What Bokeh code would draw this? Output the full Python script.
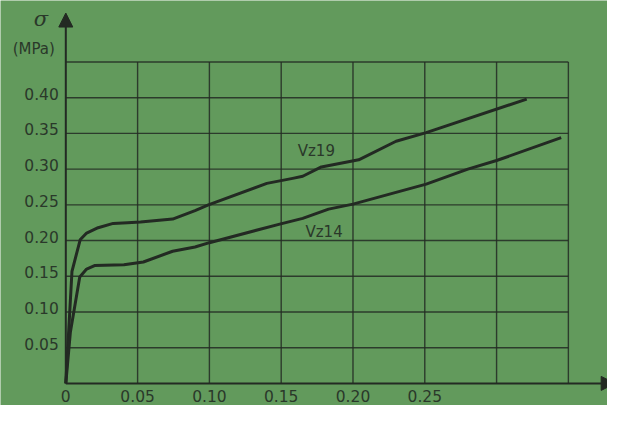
from bokeh.plotting import figure
from bokeh.models import Arrow, NormalHead, Range1d
from bokeh.core.properties import value
from bokeh.embed import file_html
from bokeh.resources import INLINE

# ---- data ----
strain_vz19 = [0, 0.0043, 0.010, 0.0145, 0.0225, 0.033, 0.043, 0.052, 0.0744, 0.090, 0.0993,
               0.140, 0.158, 0.165, 0.178, 0.204, 0.230, 0.251, 0.321]
stress_vz19 = [0, 0.157, 0.201, 0.2105, 0.218, 0.224, 0.225, 0.226, 0.230, 0.242, 0.250,
               0.280, 0.287, 0.290, 0.303, 0.313, 0.339, 0.351, 0.398]

strain_vz14 = [0, 0.0032, 0.0097, 0.0145, 0.020, 0.0405, 0.054, 0.0744, 0.090, 0.100,
               0.149, 0.165, 0.183, 0.200, 0.251, 0.280, 0.300, 0.345]
stress_vz14 = [0, 0.072, 0.149, 0.160, 0.165, 0.166, 0.170, 0.185, 0.191, 0.197,
               0.223, 0.231, 0.244, 0.251, 0.279, 0.300, 0.312, 0.344]

series_names = ["Vz19", "Vz14"]
series_label_x = [0.1615, 0.1669]
series_label_y = [0.3259, 0.2114]

x_ticks = [0, 0.05, 0.10, 0.15, 0.20, 0.25]
x_tick_labels = ["0", "0.05", "0.10", "0.15", "0.20", "0.25"]
y_ticks = [0.05, 0.10, 0.15, 0.20, 0.25, 0.30, 0.35, 0.40]
y_tick_labels = ["0.05", "0.10", "0.15", "0.20", "0.25", "0.30", "0.35", "0.40"]
grid_x = [0.05, 0.10, 0.15, 0.20, 0.25, 0.30, 0.35]
grid_y = [0.05, 0.10, 0.15, 0.20, 0.25, 0.30, 0.35, 0.40, 0.45]
grid_x_max = 0.35
grid_y_max = 0.45

BG = "#629a5c"
INK = "#232a23"
TXT = "#2a382a"
FONT = value("DejaVu Sans")

p = figure(width=607, height=405, output_backend="svg", toolbar_location=None,
           x_range=Range1d(-0.04548, 0.37725), y_range=Range1d(-0.03094, 0.53605),
           x_axis_location=None, y_axis_location=None, min_border=0)
p.background_fill_color = BG
p.border_fill_color = BG
p.outline_line_color = None
p.xgrid.visible = False
p.ygrid.visible = False

# grid
p.segment(x0=grid_x, y0=[0] * len(grid_x), x1=grid_x, y1=[grid_y_max] * len(grid_x),
          line_color=INK, line_width=1.4, line_alpha=0.85)
p.segment(x0=[0] * len(grid_y), y0=grid_y, x1=[grid_x_max] * len(grid_y), y1=grid_y,
          line_color=INK, line_width=1.4, line_alpha=0.85)

# axes with arrows
p.add_layout(Arrow(x_start=0, y_start=0, x_end=0, y_end=0.5185, line_color=INK, line_width=2,
                   end=NormalHead(size=14, fill_color=INK, line_color=INK)))
p.add_layout(Arrow(x_start=0, y_start=0, x_end=0.3826, y_end=0, line_color=INK, line_width=2,
                   end=NormalHead(size=14, fill_color=INK, line_color=INK)))

# curves
p.line(strain_vz19, stress_vz19, line_color=INK, line_width=3, line_join="round")
p.line(strain_vz14, stress_vz14, line_color=INK, line_width=3, line_join="round")

# tick labels
p.text(x=x_ticks, y=[0] * len(x_ticks), text=x_tick_labels, text_align="center",
       text_baseline="middle", y_offset=12.5, text_font=FONT, text_font_size="15.5px",
       text_color=TXT)
p.text(x=[0] * len(y_ticks), y=y_ticks, text=y_tick_labels, text_align="right",
       text_baseline="middle", x_offset=-7, y_offset=-4, text_font=FONT,
       text_font_size="15.5px", text_color=TXT)

# series labels
p.text(x=series_label_x, y=series_label_y, text=series_names, text_align="left",
       text_baseline="middle", text_font=FONT, text_font_size="15px", text_color=TXT)

# axis title
p.text(x=[0], y=[0.53605], text=["σ"], text_align="center", text_baseline="middle",
       x_offset=-25, y_offset=18, text_font=value("DejaVu Serif"), text_font_style="italic",
       text_font_size="21px", text_color=TXT)
p.text(x=[0], y=[0.53605], text=["(MPa)"], text_align="center", text_baseline="middle",
       x_offset=-32, y_offset=48, text_font=FONT, text_font_size="15px", text_color=TXT)

open("out.html", "w").write(file_html(p, INLINE))
